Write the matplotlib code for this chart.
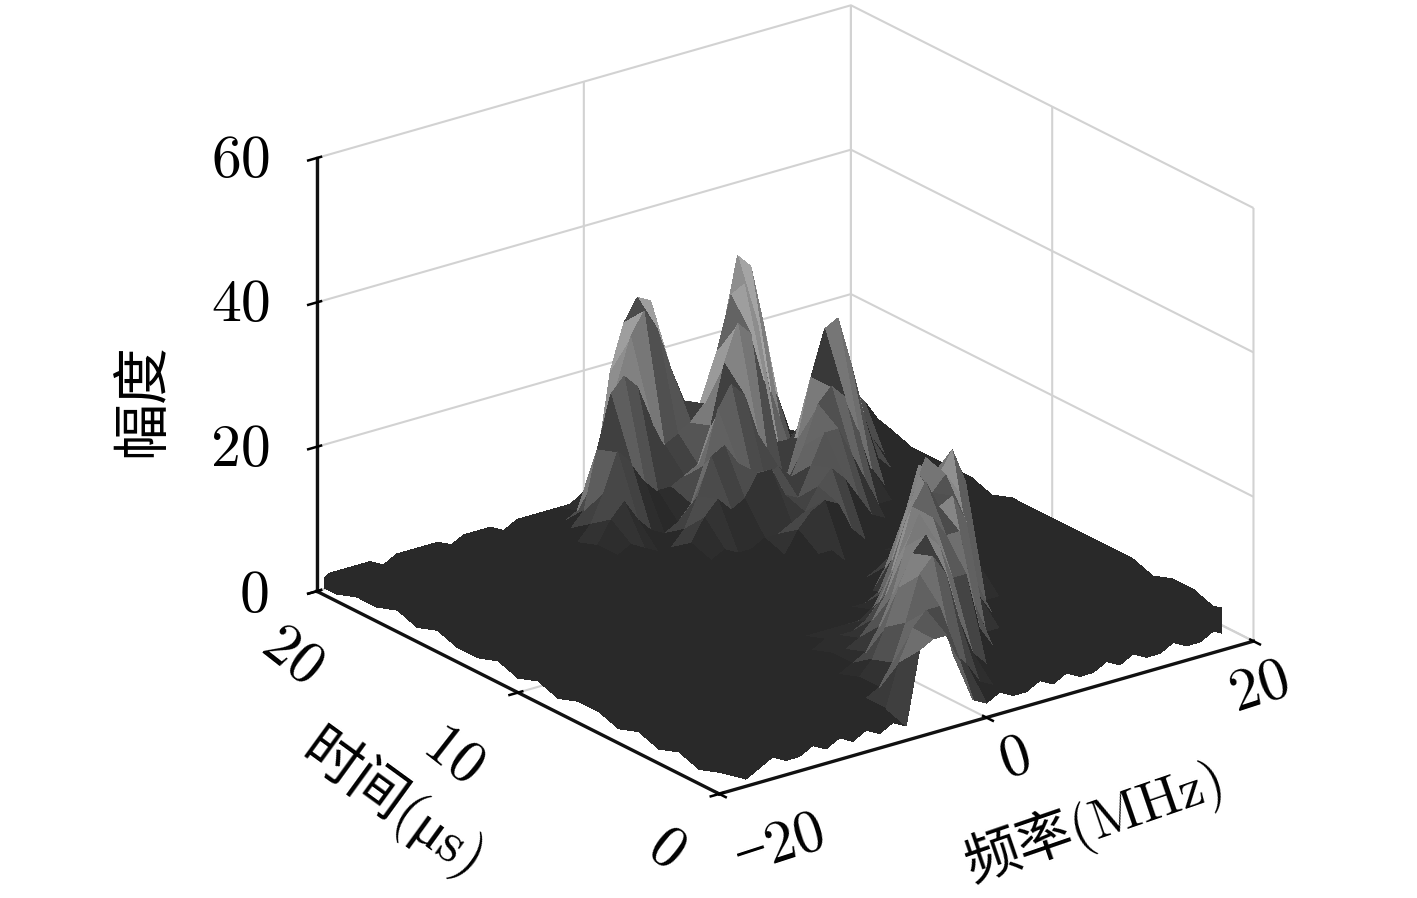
import numpy as np
import matplotlib
matplotlib.use("Agg")
import matplotlib.pyplot as plt

plt.rcParams['font.family'] = ['cmr10', 'Liberation Serif', 'Noto Sans CJK SC']
plt.rcParams['grid.color'] = '#d2d2d2'
plt.rcParams['grid.linewidth'] = 1.5

# amplitude, one list per time row, freq -20..20 in 1 MHz steps
t00 = [3,2,1,2,3,2,2,3,2,3,2,3,2,3,2,12,13,13,9,3,2,3,2,2,3,2,3,2,2,3,2,3,2,2,3,2,2,3,2,2,3]
t01 = [2,3,3,2,3,3,2,3,3,3,2,3,3,2,3,9,13,15,15,8,6,3,2,3,3,2,3,3,2,3,3,2,3,3,2,3,3,2,3,3,3]
t02 = [3,2,3,3,2,3,3,3,2,3,3,2,3,3,3,4,7,12,18,20,17,10,5,3,3,3,2,3,3,2,3,3,2,3,3,2,3,3,2,3,2]
t03 = [2,3,3,2,3,3,3,2,3,3,2,3,3,3,3,4,6,10,15,19,21,19,14,14,6,3,3,3,2,3,3,2,3,3,2,3,2,3,3,2,3]
t04 = [3,2,3,3,2,3,3,2,3,3,3,2,3,3,3,3,4,5,8,12,18,22,21,18,18,8,3,3,3,3,2,3,3,2,3,3,2,3,3,2,3]
t05 = [2,3,3,2,3,3,3,3,3,3,3,3,2,3,3,3,4,4,5,7,10,15,21,24,20,21,17,6,3,3,3,2,3,3,2,3,3,2,3,3,2]
t06 = [3,2,3,3,2,3,3,3,2,3,3,3,2,3,3,3,3,4,4,4,5,7,11,17,23,20,22,19,7,3,3,3,2,3,3,2,3,3,2,3,3]
t07 = [3,3,2,3,3,2,3,2,3,3,2,3,3,2,3,3,3,3,3,3,3,3,4,6,10,18,23,20,23,18,6,3,3,3,2,3,3,3,2,3,3]
t08 = [2,3,3,2,3,2,3,3,2,3,3,2,3,3,2,3,2,3,3,3,2,3,3,3,4,8,14,20,18,18,15,5,3,3,3,3,2,3,3,2,3]
t09 = [3,2,3,3,2,3,3,2,3,2,3,3,2,3,3,2,3,3,3,2,3,3,2,3,3,2,5,7,11,12,9,8,3,3,3,2,3,3,2,3,3]
t10 = [2,3,2,3,2,3,3,2,3,3,2,3,2,3,3,2,3,3,2,3,3,2,3,2,3,3,2,3,3,4,5,4,3,3,3,2,3,3,3,2,3]
t11 = [3,2,2,3,3,2,3,3,2,3,3,2,3,3,2,3,3,2,3,3,2,3,3,3,5,5,3,2,3,3,3,3,2,3,3,2,3,3,3,2,3]
t12 = [2,2,3,2,3,2,3,2,3,3,2,3,2,3,3,2,3,2,3,3,2,3,3,4,7,9,10,9,5,3,3,3,3,2,3,3,3,2,3,3,3]
t13 = [2,3,2,2,3,2,2,3,3,2,3,3,3,2,3,2,3,3,2,4,5,4,4,5,5,6,7,10,12,10,7,4,3,3,3,2,3,3,3,3,2]
t14 = [3,2,2,3,2,3,2,2,2,2,3,3,2,3,3,3,3,3,3,5,8,10,8,9,12,12,8,7,11,15,15,11,7,3,3,3,2,3,3,3,3]
t15 = [2,3,2,2,3,2,2,2,3,2,2,3,3,3,3,4,5,4,3,3,5,9,14,15,12,10,9,10,8,12,17,19,17,12,6,3,3,3,3,2,3]
t16 = [3,2,2,3,2,2,3,2,2,2,2,3,2,3,3,4,7,9,6,4,3,4,6,11,18,21,19,13,6,5,11,19,25,26,19,11,5,3,3,2,3]
t17 = [2,3,2,2,2,3,2,2,2,2,3,2,2,2,3,3,5,9,14,12,9,7,7,8,9,14,22,27,25,18,9,7,11,17,20,17,11,6,3,3,3]
t18 = [2,2,2,3,2,2,2,3,2,2,2,3,2,2,3,3,3,5,13,20,22,20,15,11,12,13,15,22,29,30,24,14,6,3,5,8,10,11,9,6,4]
t19 = [1,2,3,2,2,3,2,2,2,3,2,2,2,2,2,2,3,2,3,6,12,19,25,28,25,19,14,12,13,23,32,30,21,11,5,3,3,3,3,4,4]
t20 = [1,2,2,2,2,1,2,2,2,2,1,2,2,2,1,2,2,2,2,2,2,7,19,25,28,27,16,12,9,7,10,22,27,20,9,4,3,3,4,4,4]

amp = np.array([t00,t01,t02,t03,t04,t05,t06,t07,t08,t09,t10,t11,t12,t13,t14,t15,t16,t17,t18,t19,t20], dtype=float)
freq = np.arange(-20, 21)
tempo = np.arange(0, 21)

rotulos_z = ['0', '20', '40', '60']
pos_rotulos_z = [(255, 597), (241, 451), (241, 306), (241, 162)]

F, T = np.meshgrid(freq, tempo)

# grey grows with height and flank steepness, crest seen head-on stays dark
dzt, dzf = np.gradient(amp)
cinza = 0.16 + 0.44*(np.maximum(amp - 3.5, 0)/26)**0.85 + 0.14*(1 - np.exp(-np.maximum(np.abs(dzf) - 1.5, 0)/3))
crista = np.exp(-(dzf/2.2)**2) * (dzt > 1.5) * (amp > 12)
cinza = cinza * (1 - 0.5*crista)
cores = np.dstack([cinza, cinza, cinza, np.ones_like(cinza)])

fig = plt.figure(figsize=(14.17, 8.98), dpi=100)
ax = fig.add_axes([0.0455, 0.0415, 1, 1], projection='3d')
ax.set_proj_type('ortho')
ax.view_init(elev=22.3, azim=-127)
ax.set_box_aspect((1, 1, 0.7), zoom=1.141)

surf = ax.plot_surface(F, T, amp, facecolors=cores, rstride=1, cstride=1, shade=False, linewidth=0, antialiased=False)

ax.set_xlim(-20, 20)
ax.set_ylim(0, 20)
ax.set_zlim(0, 60)
ax.set_xticks([-20, 0, 20])
ax.set_yticks([0, 10, 20])
ax.set_zticks([0, 20, 40, 60])
ax.set_xticklabels(['\u221220', '0', '20'])
ax.set_yticklabels(['0', '10', '20'])
ax.set_zticklabels(['', '', '', ''])
ax.tick_params(axis='x', labelsize=43, labelrotation=18, pad=-2)
ax.tick_params(axis='y', labelsize=43, labelrotation=-38, pad=8)

rot_x = ax.get_xticklabels()
rot_x[0].set_ha('left')
rot_x[1].set_ha('left')
rot_y = ax.get_yticklabels()
rot_y[0].set_ha('right')
rot_y[1].set_ha('right')

for eixo in [ax.xaxis, ax.yaxis, ax.zaxis]:
    eixo.set_pane_color((1, 1, 1, 0))
    eixo.pane.set_edgecolor('#c4c4c4')
    eixo.line.set_color('#111111')
    eixo.line.set_linewidth(2.4)
    eixo._axinfo['tick']['linewidth'] = {True: 1.8, False: 1.0}
    eixo._axinfo['tick']['color'] = '#111111'

for rotulo, (px, py) in zip(rotulos_z, pos_rotulos_z):
    ax.text2D(px/1417, 1 - py/898, rotulo, transform=fig.transFigure, fontsize=43, ha='center', va='center')

ax.text2D(143/1417, 1 - 400/898, '幅度', transform=fig.transFigure, fontsize=41, rotation=90, ha='center', va='center')
ax.text2D(393/1417, 1 - 805/898, '时间(μs)', transform=fig.transFigure, fontsize=41, rotation=-36, ha='center', va='center')
ax.text2D(1095/1417, 1 - 822/898, '频率(MHz)', transform=fig.transFigure, fontsize=40, rotation=19, ha='center', va='center')

fig.savefig('out.png', dpi=100)
